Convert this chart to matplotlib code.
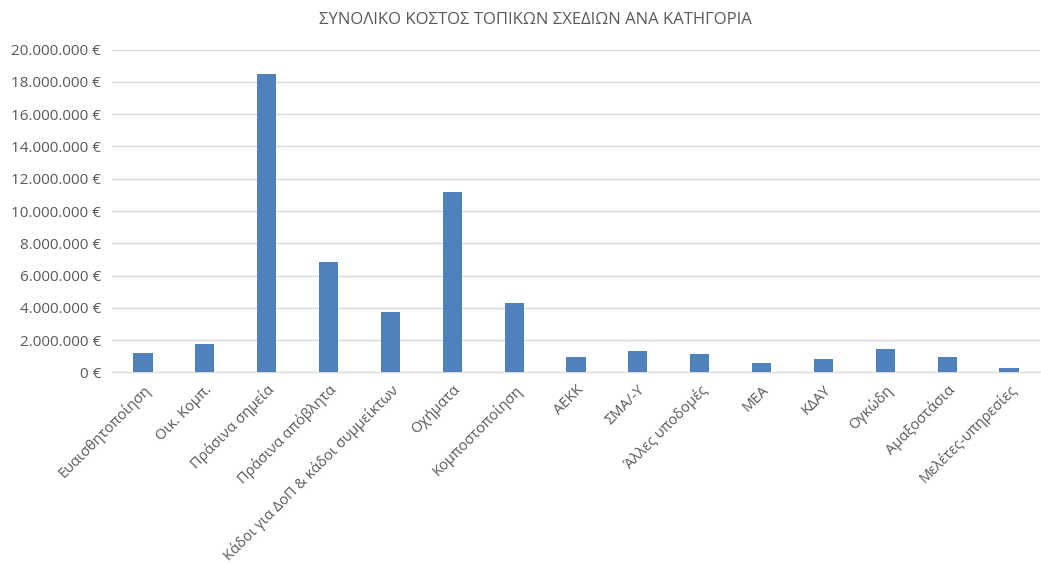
import matplotlib
matplotlib.use("Agg")
import matplotlib.pyplot as plt
from matplotlib.ticker import FuncFormatter, MultipleLocator

categories = ["Ευαισθητοποίηση", "Οικ. Κομπ.", "Πράσινα σημεία", "Πράσινα απόβλητα",
              "Κάδοι για ΔοΠ & κάδοι συμμείκτων", "Οχήματα", "Κομποστοποίηση", "ΑΕΚΚ",
              "ΣΜΑ/-Υ", "Άλλες υποδομές", "ΜΕΑ", "ΚΔΑΥ", "Ογκώδη", "Αμαξοστάσια",
              "Μελέτες-υπηρεσίες"]
values = [1230000, 1750000, 18480000, 6860000, 3770000, 11160000, 4280000, 980000,
          1350000, 1150000, 610000, 840000, 1440000, 980000, 300000]

title = "ΣΥΝΟΛΙΚΟ ΚΟΣΤΟΣ ΤΟΠΙΚΩΝ ΣΧΕΔΙΩΝ ΑΝΑ ΚΑΤΗΓΟΡΙΑ"

plt.rcParams['font.family'] = ['Open Sans', 'DejaVu Sans']
grey = "#595959"

fig = plt.figure(figsize=(10.41, 5.66), dpi=100)
ax = fig.add_axes([0.1076, 0.3419, 0.8914, 0.5706])
x = range(len(categories))
ax.bar(x, values, width=0.31, color="#4f81bd", zorder=3)
ax.set_xlim(-0.5, len(categories) - 0.5)
ax.set_ylim(0, 20000000)
ax.yaxis.set_major_locator(MultipleLocator(2000000))
ax.yaxis.set_major_formatter(FuncFormatter(lambda v, p: f"{int(v):,}".replace(",", ".") + " €"))
ax.grid(axis="y", color="#d9d9d9", linewidth=1, zorder=0)
for s in ["top", "right", "left"]:
    ax.spines[s].set_visible(False)
ax.spines["bottom"].set_color("#d9d9d9")
ax.tick_params(axis="both", length=0, colors=grey)
ax.tick_params(axis="y", pad=8, labelsize=11)
ax.tick_params(axis="x", pad=7, labelsize=10.5)
ax.set_xticks(list(x))
ax.set_xticklabels(categories, rotation=45, ha="right", rotation_mode="anchor")
fig.text(0.514, 0.965, title, ha="center", va="center", color=grey, fontsize=12)
fig.savefig("out.png", dpi=100, facecolor="white")
